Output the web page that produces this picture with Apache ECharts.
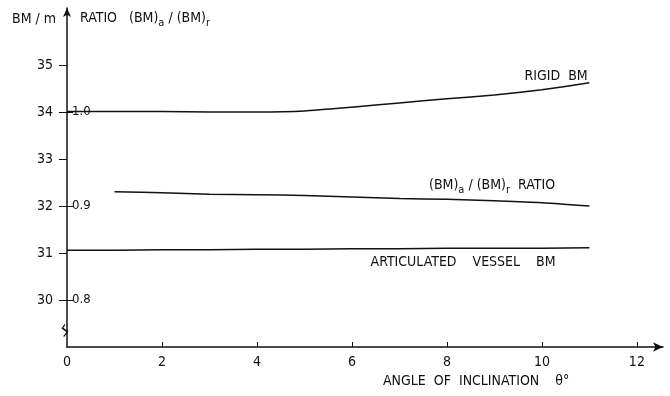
<!DOCTYPE html>
<html><head><meta charset="utf-8">
<script src="https://cdn.jsdelivr.net/npm/echarts@6/dist/echarts.min.js"></script>
<style>html,body{margin:0;padding:0;background:#fff}#c{width:670px;height:396px}</style>
</head><body><div id="c"></div>
<script>
const angles = [0,1,2,3,4,5,6,7,8,9,10,11];
const rigidBM = [34.01,34.01,34.01,34.0,34.0,34.02,34.1,34.19,34.28,34.36,34.47,34.62];
const ratioAngles = [1,2,3,4,5,6,7,8,9,10,11];
const ratioValues = [0.915,0.914,0.9125,0.912,0.911,0.9095,0.908,0.907,0.9055,0.9035,0.900];
const articulatedBM = [31.06,31.06,31.07,31.07,31.08,31.08,31.09,31.09,31.1,31.1,31.1,31.11];
const xTicks = [0,2,4,6,8,10,12];
const bmTicks = [30,31,32,33,34,35];
const ratioTicks = [0.8,0.9,1.0];

const F = 'DejaVu Sans Condensed';
const INK = '#111';
const pairs = (xs, ys) => xs.map((x,i)=>[x, ys[i]]);

const chart = echarts.init(document.getElementById('c'));
chart.setOption({
  animation:false,
  backgroundColor:'#fff',
  textStyle:{fontFamily:F,color:INK},
  grid:{left:67,right:7,top:8,bottom:49,containLabel:false},
  xAxis:{type:'value',min:0,max:12.55,
    axisLine:{lineStyle:{color:INK,width:1.5},symbol:['none','arrow'],symbolSize:[7,10]},
    axisTick:{inside:true,length:5,lineStyle:{color:INK},customValues:xTicks.slice(1)},
    axisLabel:{customValues:xTicks,color:INK,fontFamily:F,fontSize:14,margin:8,formatter:v=>String(v)},
    splitLine:{show:false}},
  yAxis:[
    {type:'value',min:29,max:36.21,position:'left',
      axisLine:{show:true,onZero:false,lineStyle:{color:INK,width:1.5},symbol:['none','arrow'],symbolSize:[6,9]},
      axisTick:{show:true,length:8,lineStyle:{color:INK},customValues:bmTicks},
      axisLabel:{customValues:bmTicks,color:INK,fontFamily:F,fontSize:14,margin:14,formatter:v=>String(v)},
      splitLine:{show:false}},
    {type:'value',min:0.75,max:1.1105,position:'left',
      axisLine:{show:false},
      axisTick:{show:true,inside:true,length:6,lineStyle:{color:INK},customValues:ratioTicks},
      axisLabel:{inside:true,customValues:ratioTicks,color:INK,fontFamily:F,fontSize:13,margin:5,formatter:v=>v.toFixed(1)},
      splitLine:{show:false}}
  ],
  series:[
    {type:'line',yAxisIndex:0,data:pairs(angles,rigidBM),symbol:'none',smooth:0.15,
      lineStyle:{color:INK,width:1.5},
      markPoint:{symbol:'circle',symbolSize:0,silent:true,
        data:[{coord:[10.3,34.75],label:{show:true,formatter:'RIGID  BM',color:INK,fontFamily:F,fontSize:14}}]}},
    {type:'line',yAxisIndex:1,data:pairs(ratioAngles,ratioValues),symbol:'none',smooth:0.3,
      lineStyle:{color:INK,width:1.5},
      markPoint:{symbol:'circle',symbolSize:0,silent:true,
        data:[{coord:[8.95,0.9215],label:{show:true,
          formatter:'(BM){s|a} / (BM){s|r}  RATIO',color:INK,fontFamily:F,fontSize:14,
          rich:{s:{fontSize:11,padding:[9,0,0,0],fontFamily:F,color:INK}}}}]}},
    {type:'line',yAxisIndex:0,data:pairs(angles,articulatedBM),symbol:'none',
      lineStyle:{color:INK,width:1.5},
      markPoint:{symbol:'circle',symbolSize:0,silent:true,
        data:[{coord:[8.34,30.8],label:{show:true,formatter:'ARTICULATED    VESSEL    BM',color:INK,fontFamily:F,fontSize:14}},
              {coord:[0.02,29.35],symbol:'path://M2,0 L0,3 L4,6 L1,10',symbolSize:[5,12],symbolOffset:[-3,0],
               itemStyle:{color:'rgba(0,0,0,0)',borderColor:INK,borderWidth:1.2},label:{show:false}}]}}
  ],
  graphic:[
    {type:'text',left:12,top:12,style:{text:'BM / m',font:'14px "DejaVu Sans Condensed"',fill:INK}},
    {type:'text',left:80,top:11,style:{text:'RATIO   (BM){s|a} / (BM){s|r}',font:'14px "DejaVu Sans Condensed"',fill:INK,
      rich:{s:{font:'11px "DejaVu Sans Condensed"',fill:INK,padding:[10,0,0,0]}}}},
    {type:'text',left:383,top:374,style:{text:'ANGLE  OF  INCLINATION    θ°',font:'14px "DejaVu Sans Condensed"',fill:INK}}
  ]
});
</script></body></html>
